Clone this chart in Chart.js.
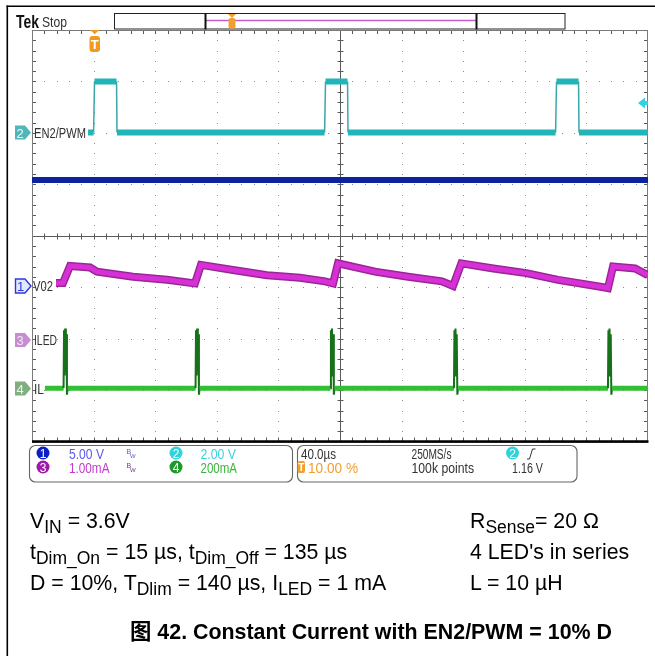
<!DOCTYPE html>
<html><head><meta charset="utf-8">
<script src="https://cdn.jsdelivr.net/npm/chart.js@4.4.1/dist/chart.umd.min.js"></script>
<style>
html,body{margin:0;padding:0;background:#fff;width:655px;height:656px;overflow:hidden}
#wrap{position:relative;width:655px;height:656px}
#c{position:absolute;left:0;top:0}
.abs{position:absolute;white-space:nowrap}
svg.abs{left:0;top:0;pointer-events:none}
.doc{font-family:"Liberation Sans",Arial,"Noto Sans CJK SC",sans-serif;font-size:21.3px;color:#000;line-height:21px}
.doc sub{font-size:17.5px;vertical-align:-5px;line-height:0}
.cap{font-weight:bold;font-size:21.4px}
</style></head>
<body><div id="wrap">
<canvas id="c" width="655" height="656" style="width:655px;height:656px"></canvas>
<svg class="abs" width="655" height="656" font-family="'Liberation Sans',Arial,sans-serif">
 <line x1="6.5" y1="6.3" x2="655" y2="6.3" stroke="#000" stroke-width="1.6"/>
 <line x1="7.3" y1="5.5" x2="7.3" y2="656" stroke="#000" stroke-width="1.6"/>
 <text x="16" y="28" font-size="18" font-weight="bold" fill="#111" textLength="23" lengthAdjust="spacingAndGlyphs">Tek</text>
 <text x="42" y="27" font-size="14" fill="#333" textLength="25" lengthAdjust="spacingAndGlyphs">Stop</text>
 <rect x="114.5" y="13.5" width="450.5" height="15.5" fill="#fff" stroke="#222" stroke-width="1"/>
 <line x1="206" y1="20.5" x2="476" y2="20.5" stroke="#c060c8" stroke-width="1.5"/>
 <line x1="205.5" y1="13" x2="205.5" y2="29.5" stroke="#111" stroke-width="2"/>
 <line x1="476.5" y1="13" x2="476.5" y2="29.5" stroke="#111" stroke-width="2"/>
 <polygon points="228,14 236,14 232,18" fill="#f0a030"/>
 <rect x="228.5" y="18" width="7" height="10.5" rx="2" fill="#f0a030"/>
 <!-- trigger position marker -->
 <polygon points="90,30 99.5,30 94.75,34" fill="#f29a1d"/>
 <rect x="89.5" y="36" width="10.5" height="16" rx="3" fill="#f29a1d"/>
 <text x="94.8" y="49" text-anchor="middle" font-size="13" font-weight="bold" fill="#fff">T</text>
 <!-- trigger level -->
 <polygon points="638,103 645,97.5 645,108.5" fill="#2fd3e3"/>
 <rect x="644" y="101" width="4" height="4" fill="#2fd3e3"/>
 <!-- channel markers -->
 <polygon points="15,125.5 25,125.5 31,132.5 25,139.5 15,139.5" fill="#52b6b8"/>
 <text x="20" y="137.5" text-anchor="middle" font-size="13" fill="#e8ffff">2</text>
 <text x="34" y="137.5" font-size="14" fill="#333" textLength="52" lengthAdjust="spacingAndGlyphs">EN2/PWM</text>
 <polygon points="15.5,279 25,279 31,286 25,293 15.5,293" fill="#e4e8ff" stroke="#2a3ad8" stroke-width="1.4"/>
 <text x="20.5" y="291" text-anchor="middle" font-size="13" fill="#2a3ad8">1</text>
 <text x="33" y="291" font-size="14" fill="#333" textLength="20" lengthAdjust="spacingAndGlyphs">V02</text>
 <polygon points="15,333 25,333 31,340 25,347 15,347" fill="#c88cd0"/>
 <text x="20" y="345" text-anchor="middle" font-size="13" fill="#f4e8f6">3</text>
 <text x="34" y="345" font-size="14" fill="#333" textLength="23" lengthAdjust="spacingAndGlyphs">ILED</text>
 <polygon points="15,381.5 25,381.5 31,388.5 25,395.5 15,395.5" fill="#80ae80"/>
 <text x="20" y="393.5" text-anchor="middle" font-size="13" fill="#eef8ee">4</text>
 <text x="34" y="393.5" font-size="14" fill="#333" textLength="10" lengthAdjust="spacingAndGlyphs">IL</text>
 <!-- info panel -->
 <rect x="29.5" y="445.5" width="263" height="36.5" rx="6" fill="#fff" stroke="#666" stroke-width="1.1"/>
 <rect x="297.5" y="445.5" width="279.5" height="36.5" rx="6" fill="#fff" stroke="#666" stroke-width="1.1"/>
 <circle cx="43" cy="453" r="6.5" fill="#0b1fc4"/>
 <text x="43" y="457.5" text-anchor="middle" font-size="12" fill="#fff">1</text>
 <text x="69" y="458.5" font-size="14" fill="#5a5ae6" textLength="35" lengthAdjust="spacingAndGlyphs">5.00 V</text>
 <text x="126.5" y="454" font-size="7" fill="#5a5ad0">B</text><text x="130" y="458" font-size="6" fill="#5a5ad0">W</text>
 <circle cx="176" cy="453" r="6.5" fill="#30d3dc"/>
 <text x="176" y="457.5" text-anchor="middle" font-size="12" fill="#fff">2</text>
 <text x="200.5" y="458.5" font-size="14" fill="#3ed2da" textLength="35.5" lengthAdjust="spacingAndGlyphs">2.00 V</text>
 <circle cx="43" cy="467" r="6.5" fill="#a01aa8"/>
 <text x="43" y="471.5" text-anchor="middle" font-size="12" fill="#fff">3</text>
 <text x="69" y="472.5" font-size="14" fill="#c03cc8" textLength="40.5" lengthAdjust="spacingAndGlyphs">1.00mA</text>
 <text x="126.5" y="468" font-size="7" fill="#6a3a8a">B</text><text x="130" y="472" font-size="6" fill="#6a3a8a">W</text>
 <circle cx="176" cy="467" r="6.5" fill="#1e9a28"/>
 <text x="176" y="471.5" text-anchor="middle" font-size="12" fill="#fff">4</text>
 <text x="200.5" y="472.5" font-size="14" fill="#3cb43c" textLength="36.5" lengthAdjust="spacingAndGlyphs">200mA</text>
 <text x="301" y="458.5" font-size="14" fill="#333" textLength="35" lengthAdjust="spacingAndGlyphs">40.0µs</text>
 <text x="411.5" y="458.5" font-size="14" fill="#333" textLength="40" lengthAdjust="spacingAndGlyphs">250MS/s</text>
 <circle cx="512.5" cy="453" r="6.5" fill="#30d3dc"/>
 <text x="512.5" y="457.5" text-anchor="middle" font-size="12" fill="#fff">2</text>
 <path d="M527,459 L529.5,459 L532.5,449 L535.5,449" fill="none" stroke="#333" stroke-width="1"/>
 <rect x="297.5" y="461" width="7.5" height="12" rx="2" fill="#f0a030"/>
 <text x="301.3" y="471" text-anchor="middle" font-size="10" font-weight="bold" fill="#fff">T</text>
 <text x="308" y="472.5" font-size="14" fill="#f0a030" textLength="50" lengthAdjust="spacingAndGlyphs">10.00 %</text>
 <text x="411.5" y="472.5" font-size="14" fill="#333" textLength="62.5" lengthAdjust="spacingAndGlyphs">100k points</text>
 <text x="512" y="472.5" font-size="14" fill="#333" textLength="31" lengthAdjust="spacingAndGlyphs">1.16 V</text>
</svg>
<div class="abs doc" style="left:30px;top:511px">V<sub>IN</sub> = 3.6V</div>
<div class="abs doc" style="left:30px;top:542px">t<sub>Dim_On</sub> = 15 µs, t<sub>Dim_Off</sub> = 135 µs</div>
<div class="abs doc" style="left:30px;top:573px">D = 10%, T<sub>Dlim</sub> = 140 µs, I<sub>LED</sub> = 1 mA</div>
<div class="abs doc" style="left:470px;top:511px">R<sub>Sense</sub>= 20 Ω</div>
<div class="abs doc" style="left:470px;top:542px">4 LED's in series</div>
<div class="abs doc" style="left:470px;top:573px">L = 10 µH</div>
<div class="abs doc cap" style="left:130px;top:622px">图 42. Constant Current with EN2/PWM = 10% D</div>
</div>
<script>
// ---- time base: 40 µs/div, trigger at 10 % (t = 0)
const timeWindow = [-40, 360];
const usPerDiv = 40;

// ---- Ch2 EN2/PWM (V), 2.00 V/div
const en2Time  = [-3.6, 0, 0.6, 14.9, 15.2, 150, 150.6, 164.9, 165.2, 300, 300.6, 314.9, 315.2, 360];
const en2Volts = [0, 0, 1.98, 1.98, 0, 0, 1.98, 1.98, 0, 0, 1.98, 1.98, 0, 0];

// ---- Ch1 V02 (V), 5.00 V/div
const v02Time  = [-40, 360];
const v02Volts = [10.3, 10.3];

// ---- Ch3 ILED (mA), 1.00 mA/div
const iledTime = [-24.4, -19.9, -15.3, -2.3, 2.2, 25.6, 47.7, 65.8, 69.7, 90.5, 112.6, 134.0, 150.3, 155.5, 158.7,
                  182.7, 204.2, 226.2, 233.4, 238.8, 259.6, 281.0, 301.6, 330.1, 334.0, 337.3, 351.6, 360];
const iledMilliamps = [1.11, 1.11, 1.44, 1.41, 1.33, 1.23, 1.17, 1.10, 1.46, 1.36, 1.26, 1.21, 1.14, 1.10, 1.49,
                       1.33, 1.23, 1.14, 1.05, 1.49, 1.39, 1.30, 1.17, 1.03, 1.01, 1.43, 1.39, 1.26];

// ---- Ch4 IL (mA), 200 mA/div
const ilTime = [-31.6,
  -19.5, -19.2, -18.8, -18.5, -18.0, -17.7, -17.3, -16.8,
  66.2, 66.5, 66.9, 67.2, 67.7, 68.0, 68.4, 68.9,
  153.8, 154.1, 154.5, 154.8, 155.3, 155.6, 156.0, 156.5,
  234.0, 234.3, 234.7, 235.0, 235.5, 235.8, 236.2, 236.7,
  334.0, 334.3, 334.7, 335.0, 335.5, 335.8, 336.2, 336.7,
  360];
const ilMilliamps = [0,
  0, 226, 50, 232, 80, 210, -25, 0,
  0, 226, 50, 232, 80, 210, -25, 0,
  0, 226, 50, 232, 80, 210, -25, 0,
  0, 226, 50, 232, 80, 210, -25, 0,
  0, 226, 50, 232, 80, 210, -25, 0,
  0];

// ---- channel vertical settings (ground position in divisions from centre, units per division)
const CH = {
  ch1: { pos: -0.977, perDiv: 5 },
  ch2: { pos: 2.007, perDiv: 2 },
  ch3: { pos: -2.027, perDiv: 1 },
  ch4: { pos: -2.965, perDiv: 200 }
};
function chScale(c) {
  return { type: 'linear', display: false, min: (-4 - c.pos) * c.perDiv, max: (4 - c.pos) * c.perDiv };
}
function pts(ts, vs) { return ts.map((t, i) => ({ x: t, y: vs[i] })); }
const flat = c => c.p0.parsed.y === c.p1.parsed.y;

const scopeGrid = {
  id: 'scopeGrid',
  beforeDatasetsDraw(chart) {
    const { ctx, chartArea: a, scales: { x, y } } = chart;
    const xs = [], ys = [];
    for (let i = 0; i <= 10; i++) xs.push(x.getPixelForValue(timeWindow[0] + i * usPerDiv));
    for (let j = 0; j <= 8; j++) ys.push(y.getPixelForValue(4 - j));
    const mx = (xs[10] - xs[0]) / 50, my = (ys[8] - ys[0]) / 40;
    ctx.save();
    ctx.fillStyle = '#8c8c8c';
    for (let i = 1; i < 10; i++) {
      if (i === 5) continue;
      const px = Math.round(xs[i]);
      for (let k = 1; k < 40; k++) ctx.fillRect(px, Math.round(a.top + k * my), 1, 1);
    }
    for (let j = 1; j < 8; j++) {
      if (j === 4) continue;
      const py = Math.round(ys[j]);
      for (let k = 1; k < 50; k++) ctx.fillRect(Math.round(a.left + k * mx), py, 1, 1);
    }
    const cx = Math.round(xs[5]) + 0.5, cy = Math.round(ys[4]) + 0.5;
    ctx.strokeStyle = '#5a5a5a';
    ctx.lineWidth = 1;
    ctx.beginPath();
    ctx.moveTo(cx, a.top); ctx.lineTo(cx, a.bottom);
    ctx.moveTo(a.left, cy); ctx.lineTo(a.right, cy);
    for (let k = 1; k < 50; k++) {
      const px = Math.round(a.left + k * mx) + 0.5;
      ctx.moveTo(px, cy - 3); ctx.lineTo(px, cy + 3);
      ctx.moveTo(px, a.top); ctx.lineTo(px, a.top + 4);
      ctx.moveTo(px, a.bottom); ctx.lineTo(px, a.bottom - 4);
    }
    for (let k = 1; k < 40; k++) {
      const py = Math.round(a.top + k * my) + 0.5;
      ctx.moveTo(cx - 3, py); ctx.lineTo(cx + 3, py);
      ctx.moveTo(a.left, py); ctx.lineTo(a.left + 4, py);
      ctx.moveTo(a.right, py); ctx.lineTo(a.right - 4, py);
    }
    ctx.stroke();
    ctx.strokeStyle = '#7a7a7a';
    ctx.strokeRect(Math.round(a.left) + 0.5, Math.round(a.top) + 0.5, Math.round(a.right - a.left) - 1, Math.round(a.bottom - a.top));
    ctx.strokeStyle = '#000';
    ctx.lineWidth = 2.5;
    ctx.beginPath(); ctx.moveTo(a.left, a.bottom); ctx.lineTo(a.right + 0.5, a.bottom); ctx.stroke();
    ctx.restore();
  }
};

const common = { pointRadius: 0, tension: 0, fill: false, borderCapStyle: 'butt' };
new Chart(document.getElementById('c'), {
  type: 'line',
  data: {
    datasets: [
      Object.assign({}, common, { label: 'EN2/PWM', data: pts(en2Time, en2Volts), yAxisID: 'ch2', borderColor: '#1fb3b7', borderWidth: 6,
        segment: { borderWidth: c => flat(c) ? 6 : 1.5, borderColor: c => flat(c) ? '#21b4b8' : '#3ba7ab' } }),
      Object.assign({}, common, { label: 'V02', data: pts(v02Time, v02Volts), yAxisID: 'ch1', borderColor: '#0c22a0', borderWidth: 6 }),
      Object.assign({}, common, { label: 'ILED', data: pts(iledTime, iledMilliamps), yAxisID: 'ch3', borderColor: '#d730d7', borderWidth: 5 }),
      Object.assign({}, common, { label: 'ILED edge', data: pts(iledTime, iledMilliamps), yAxisID: 'ch3', borderColor: '#9a2696', borderWidth: 8 }),
      Object.assign({}, common, { label: 'IL', data: pts(ilTime, ilMilliamps), yAxisID: 'ch4', borderColor: '#33bf33', borderWidth: 5,
        segment: { borderWidth: c => flat(c) ? 5 : 2, borderColor: c => flat(c) ? '#33bf33' : '#17701a' } })
    ]
  },
  options: {
    responsive: false, animation: false, devicePixelRatio: 1,
    layout: { padding: { left: 32, top: 30, right: 7, bottom: 214.5 } },
    plugins: { legend: { display: false }, tooltip: { enabled: false } },
    scales: {
      x: { type: 'linear', display: false, min: timeWindow[0], max: timeWindow[1] },
      y: { type: 'linear', display: false, min: -4, max: 4 },
      ch1: chScale(CH.ch1), ch2: chScale(CH.ch2), ch3: chScale(CH.ch3), ch4: chScale(CH.ch4)
    }
  },
  plugins: [scopeGrid]
});
</script>
</body></html>
